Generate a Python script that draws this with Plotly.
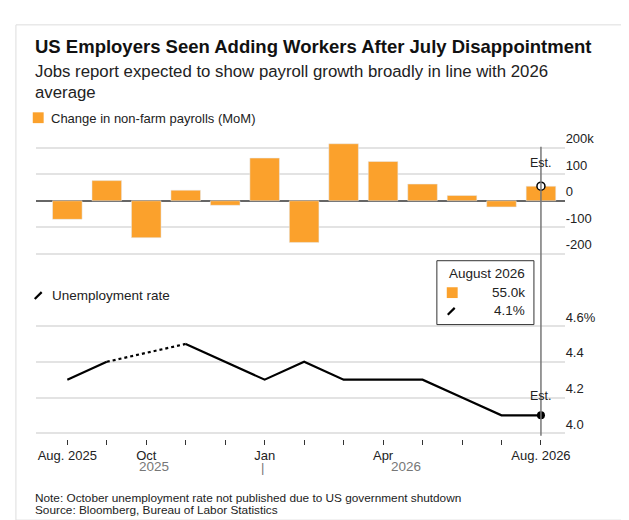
import plotly.graph_objects as go

months = ["Aug. 2025","Sep","Oct","Nov","Dec","Jan","Feb","Mar","Apr","May","Jun","Jul","Aug. 2026"]
payrolls = [-70, 76, -139, 40, -17, 161, -157, 215, 148, 63, 20, -23, 55]
unemp = [4.3, 4.4, None, 4.5, 4.4, 4.3, 4.4, 4.3, 4.3, 4.3, 4.2, 4.1, 4.1]
dotted_idx = [1, 3]
tick_idx = [0, 2, 5, 8, 12]

W, H = 629, 520
def py(px): return 1 - px / H
def pxx(px): return px / W
x = list(range(len(months)))
xr = [-0.8, 12.6]
ORANGE = "#FBA12C"
FONT = "Liberation Sans, Arial, sans-serif"

fig = go.Figure()
fig.add_bar(x=x, y=payrolls, marker_color=ORANGE, width=0.75, xaxis="x", yaxis="y", hoverinfo="skip")
fig.add_scatter(x=x, y=unemp, mode="lines", line=dict(color="black", width=2.2), xaxis="x2", yaxis="y2", connectgaps=False)
fig.add_scatter(x=dotted_idx, y=[unemp[i] for i in dotted_idx], mode="lines", line=dict(color="black", width=2.2, dash="dot"), xaxis="x2", yaxis="y2")
fig.add_scatter(x=[12], y=[payrolls[12]], mode="markers", marker=dict(color="white", size=8, line=dict(color="black", width=1.5)), xaxis="x", yaxis="y")
fig.add_scatter(x=[12], y=[unemp[12]], mode="markers", marker=dict(color="black", size=8), xaxis="x2", yaxis="y2")

ydom1 = [py(244), py(126)]
ydom2 = [py(429), py(300)]
xdom = [pxx(28), pxx(562)]
fig.update_layout(
    width=W, height=H, margin=dict(l=0, r=0, t=0, b=0), showlegend=False,
    plot_bgcolor="white", paper_bgcolor="white", font=dict(family=FONT, color="#222", size=13),
    xaxis=dict(domain=xdom, range=xr, showticklabels=False, showgrid=False, zeroline=False, anchor="y"),
    yaxis=dict(domain=ydom1, range=[-211, 226], side="right", tickvals=[200,100,0,-100,-200],
               ticktext=["200k","100","0","-100","-200"], gridcolor="#e3e3e3", gridwidth=1.5,
               zeroline=True, zerolinecolor="#666", zerolinewidth=2, ticklabelshift=-9, ticks="", anchor="x",
               tickfont=dict(size=13)),
    xaxis2=dict(domain=xdom, range=xr, tickvals=x, ticktext=[months[i] if i in tick_idx else "" for i in x],
                ticks="outside", ticklen=5, tickcolor="#333", showgrid=False, zeroline=False, anchor="y2",
                showline=False, tickfont=dict(size=13)),
    yaxis2=dict(domain=ydom2, range=[3.97, 4.68], side="right", tickvals=[4.6,4.4,4.2,4.0],
                ticktext=["4.6%","4.4","4.2","4.0"], gridcolor="#e3e3e3", gridwidth=1.5, zeroline=False,
                ticklabelshift=-9, ticks="", anchor="x2", tickfont=dict(size=13)),
)

shapes = [
    dict(type="rect", xref="paper", yref="paper", x0=pxx(8), x1=pxx(621), y0=py(512), y1=py(8), line=dict(color="#ddd", width=1)),
    dict(type="line", xref="x", yref="paper", x0=12, x1=12, y0=py(426), y1=py(132), line=dict(color="#777", width=1.5)),
    dict(type="rect", xref="paper", yref="paper", x0=pxx(25), x1=pxx(36), y0=py(108), y1=py(97), fillcolor=ORANGE, line=dict(width=0)),
    dict(type="line", xref="paper", yref="paper", x0=pxx(27), x1=pxx(34), y0=py(287), y1=py(280), line=dict(color="black", width=2.2)),
    dict(type="rect", xref="paper", yref="paper", x0=pxx(433), x1=pxx(531), y0=py(313), y1=py(248), fillcolor="white", line=dict(color="#333", width=1)),
    dict(type="rect", xref="paper", yref="paper", x0=pxx(443), x1=pxx(454), y0=py(286), y1=py(275), fillcolor=ORANGE, line=dict(width=0)),
    dict(type="line", xref="paper", yref="paper", x0=pxx(444), x1=pxx(451), y0=py(303), y1=py(296), line=dict(color="black", width=2.2)),
]
fig.update_layout(shapes=shapes)

def ann(text, xp, yp, size=13, color="#222", xanchor="left", bold=False):
    fig.add_annotation(text=f"<b>{text}</b>" if bold else text, xref="paper", yref="paper", x=pxx(xp), y=py(yp),
                       xanchor=xanchor, yanchor="middle", showarrow=False, font=dict(size=size, color=color, family=FONT))

ann("US Employers Seen Adding Workers After July Disappointment", 25, 30, 18.5, "#111", bold=True)
ann("Jobs report expected to show payroll growth broadly in line with 2026", 25, 55, 16.8)
ann("average", 25, 77, 16.8)
ann("Change in non-farm payrolls (MoM)", 41, 103, 13)
ann("Unemployment rate", 42, 283, 13.5)
ann("August 2026", 524, 261, 13.5, xanchor="right")
ann("55.0k", 524, 280, 13.5, xanchor="right")
ann("4.1%", 524, 299, 13.5, xanchor="right")
ann("2025", 147, 457, 13.5, "#777", xanchor="center")
ann("|", 257, 458, 13, "#777", xanchor="center")
ann("2026", 402, 457, 13.5, "#777", xanchor="center")
ann("Note: October unemployment rate not published due to US government shutdown", 25, 489, 11.8)
ann("Source: Bloomberg, Bureau of Labor Statistics", 25, 502, 11.8)
fig.add_annotation(text="Est.", x=12, y=payrolls[12], xref="x", yref="y", yshift=23, showarrow=False, font=dict(size=12.5, family=FONT, color="#222"))
fig.add_annotation(text="Est.", x=12, y=unemp[12], xref="x2", yref="y2", yshift=19, showarrow=False, font=dict(size=12.5, family=FONT, color="#222"))

fig.write_html("out.html")
